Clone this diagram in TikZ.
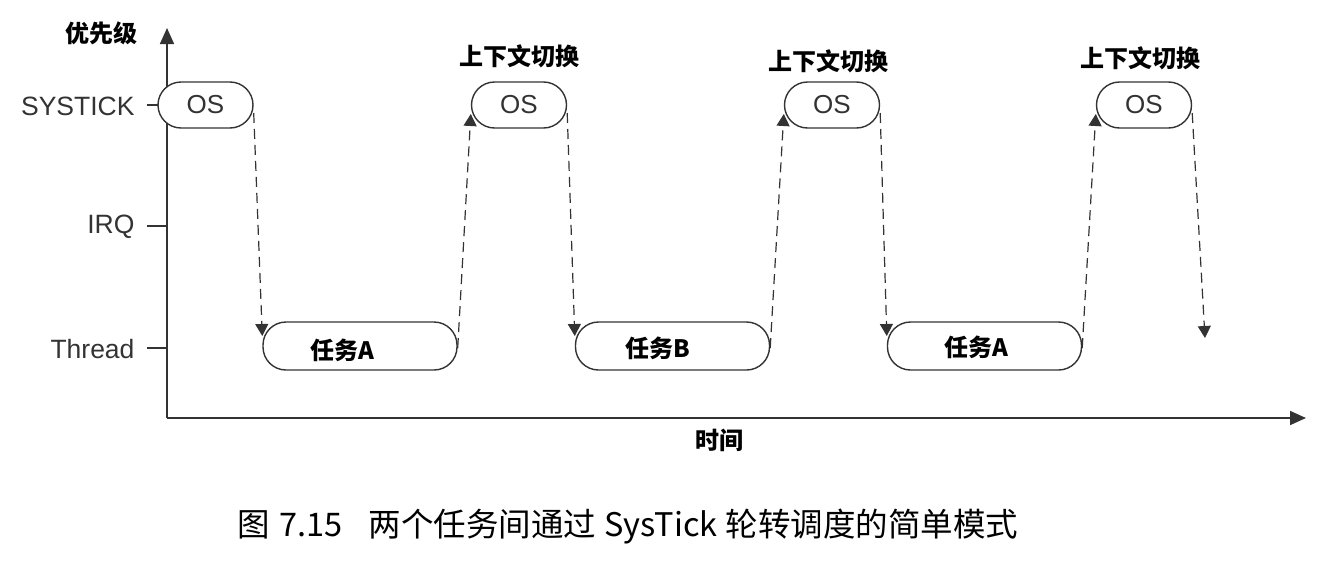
\documentclass[tikz,border=0pt]{standalone}
\usepackage{fontspec}
\setmainfont{Liberation Sans}
\newfontfamily\cjk{Noto Sans CJK SC}
\usetikzlibrary{arrows.meta,calc}
\definecolor{ink}{HTML}{333333}
\begin{document}
\begin{tikzpicture}[x=1pt,y=-1pt,
  pill/.style={draw=ink,line width=1.4pt,rounded corners=23pt,minimum width=95pt,minimum height=46pt,inner sep=0pt,fill=white},
  taskbox/.style={draw=ink,line width=1.4pt,rounded corners=23pt,minimum width=194pt,minimum height=48pt,inner sep=0pt,fill=white},
  ostext/.style={font=\fontsize{26}{26}\selectfont,text=ink},
  tasktext/.style={font=\cjk\bfseries\fontsize{24}{24}\selectfont},
  ctxlabel/.style={font=\cjk\bfseries\fontsize{24}{24}\selectfont},
  ylab/.style={font=\fontsize{26.5}{26.5}\selectfont,text=ink,anchor=east},
  axis/.style={draw=ink,line width=1.6pt,-{Triangle[length=16pt,width=14pt]}},
  tick/.style={draw=ink,line width=1.4pt},
  flow/.style={draw=ink,line width=1.2pt,dash pattern=on 10pt off 6pt,-{Triangle[length=12pt,width=13pt]}}
]
\useasboundingbox (0,0) rectangle (1323,565);
% axes
\coordinate (origin) at (167,418);
\coordinate (ytop) at (167,28);
\coordinate (xend) at (1306,418);
\draw[axis] (origin) -- (ytop);
\draw[axis] (origin) -- (xend);
\node[font=\cjk\bfseries\fontsize{24}{24}\selectfont] (ylabel) at (101,33) {优先级};
\node[font=\cjk\bfseries\fontsize{24}{24}\selectfont] (xlabel) at (719,440) {时间};
% ticks
\coordinate (t1) at (147,105); \coordinate (t1e) at (165,105);
\coordinate (t2) at (147,226); \coordinate (t2e) at (167,226);
\coordinate (t3) at (147,348); \coordinate (t3e) at (167,348);
\draw[tick] (t1) -- (t1e);
\draw[tick] (t2) -- (t2e);
\draw[tick] (t3) -- (t3e);
\node[ylab] (lsys) at (138,106) {SYSTICK};
\node[ylab] (lirq) at (138,227) {IRQ};
\node[ylab] (lthr) at (138,349) {Thread};
% OS boxes
\node[pill] (os1) at (205.5,105) {};
\node[pill] (os2) at (519,105) {};
\node[pill] (os3) at (832,105) {};
\node[pill] (os4) at (1144,105) {};
\node[ostext] (os1t) at (os1) {OS};
\node[ostext] (os2t) at (os2) {OS};
\node[ostext] (os3t) at (os3) {OS};
\node[ostext] (os4t) at (os4) {OS};
% context switch labels
\node[ctxlabel] (c2) at (519,56) {上下文切换};
\node[ctxlabel] (c3) at (828,61) {上下文切换};
\node[ctxlabel] (c4) at (1140,58) {上下文切换};
% task boxes
\node[taskbox] (ta) at (360,346) {};
\node[taskbox] (tb) at (672.5,346) {};
\node[taskbox] (tc) at (984.5,346) {};
\node[tasktext] (tat) at (342,350) {任务A};
\node[tasktext] (tbt) at (658,348) {任务B};
\node[tasktext] (tct) at (976,347) {任务A};
% flows
\draw[flow] ([yshift=-8pt]os1.east) -- ([yshift=10pt]ta.west);
\draw[flow] ([yshift=-2pt]ta.east) -- ([yshift=-9pt]os2.west);
\draw[flow] ([yshift=-8pt]os2.east) -- ([yshift=10pt]tb.west);
\draw[flow] ([yshift=-2pt]tb.east) -- ([yshift=-9pt]os3.west);
\draw[flow] ([yshift=-8pt]os3.east) -- ([yshift=10pt]tc.west);
\draw[flow] ([yshift=-2pt]tc.east) -- ([yshift=-9pt]os4.west);
\coordinate (last) at (1205,338);
\draw[flow] ([yshift=-8pt]os4.east) -- (last);
% caption
\node[font=\cjk\fontsize{32.5}{32.5}\selectfont,anchor=west,inner sep=0pt] (cap) at (237,527) {图\hspace{0.3em}7.15\hspace{0.8em}两个任务间通过\hspace{0.25em}SysTick\hspace{0.25em}轮转调度的简单模式};
\end{tikzpicture}
\end{document}
